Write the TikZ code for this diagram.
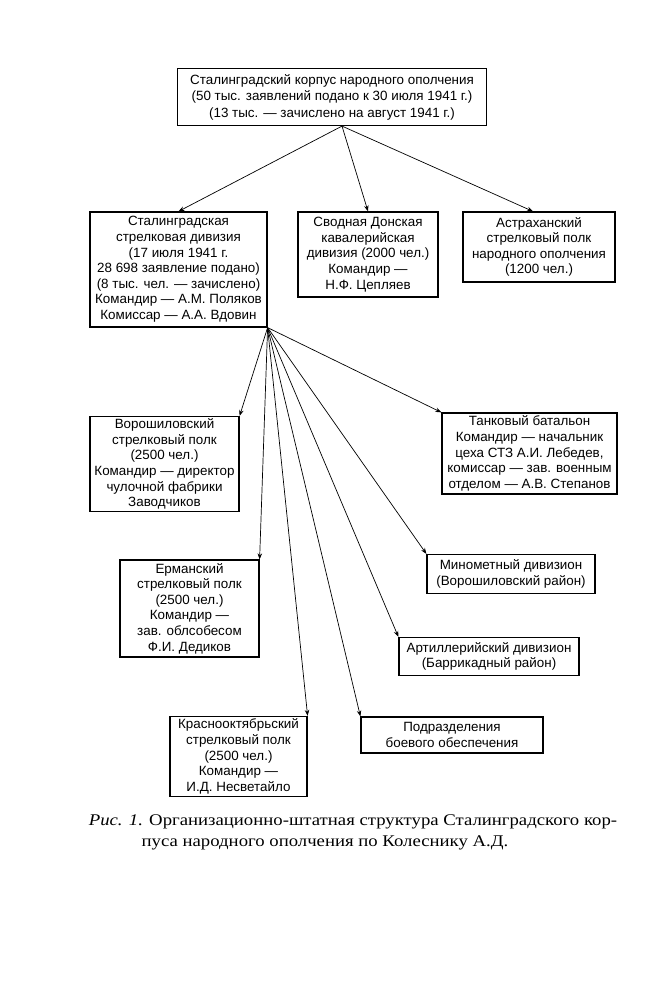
\documentclass[tikz,border=0pt]{standalone}
\usepackage{fontspec}
\setmainfont{Liberation Serif}
\newfontfamily\boxfont{Liberation Sans}
\newfontfamily\capfont[FakeStretch=1.15]{Liberation Serif}
\usetikzlibrary{arrows.meta}
\begin{document}
\begin{tikzpicture}[x=1pt,y=-1pt,
  unit/.style={draw=black,line width=1.2pt,align=center,inner sep=0pt,
    font=\boxfont\fontsize{13.4}{15.6}\selectfont},
  link/.style={line width=0.7pt,-{Stealth[length=6pt,width=4.5pt]}},
  captext/.style={font=\capfont\fontsize{16.3}{20}\selectfont}]
\fill[white] (0,0) rectangle (654,1000);
\useasboundingbox (0,0) rectangle (654,1000);
% boxes: center, width, height
\node[unit,minimum width=309pt,minimum height=57pt,font=\boxfont\fontsize{13.4}{16.5}\selectfont] (corp) at (332,97)
 {Сталинградский корпус народного ополчения\\(50 тыс. заявлений подано к 30 июля 1941 г.)\\(13 тыс. — зачислено на август 1941 г.)};
\node[unit,minimum width=177pt,minimum height=115pt] (stal) at (178.5,269.5)
 {Сталинградская\\стрелковая дивизия\\(17 июля 1941 г.\\28 698 заявление подано)\\(8 тыс. чел. — зачислено)\\Командир — А.М. Поляков\\Комиссар — А.А. Вдовин};
\node[unit,minimum width=140pt,minimum height=85pt] (don) at (368,254.5)
 {Сводная Донская\\кавалерийская\\дивизия (2000 чел.)\\Командир —\\Н.Ф. Цепляев};
\node[unit,minimum width=152pt,minimum height=70pt] (astr) at (539,247)
 {Астраханский\\стрелковый полк\\народного ополчения\\(1200 чел.)};
\node[unit,minimum width=149pt,minimum height=95pt] (voro) at (164.5,464)
 {Ворошиловский\\стрелковый полк\\(2500 чел.)\\Командир — директор\\чулочной фабрики\\Заводчиков};
\node[unit,minimum width=175pt,minimum height=81pt] (tank) at (529.5,453.5)
 {Танковый батальон\\Командир — начальник\\цеха СТЗ А.И. Лебедев,\\комиссар — зав. военным\\отделом — А.В. Степанов};
\node[unit,minimum width=139pt,minimum height=97pt] (erm) at (189.5,608.5)
 {Ерманский\\стрелковый полк\\(2500 чел.)\\Командир —\\зав. облсобесом\\Ф.И. Дедиков};
\node[unit,minimum width=168pt,minimum height=39pt] (mino) at (511,574)
 {Минометный дивизион\\(Ворошиловский район)};
\node[unit,minimum width=180pt,minimum height=38pt] (art) at (489,656.5)
 {Артиллерийский дивизион\\(Баррикадный район)};
\node[unit,minimum width=182pt,minimum height=36pt] (podr) at (452,735)
 {Подразделения\\боевого обеспечения};
\node[unit,minimum width=137pt,minimum height=80pt] (kras) at (238.5,756.5)
 {Краснооктябрьский\\стрелковый полк\\(2500 чел.)\\Командир —\\И.Д. Несветайло};
% connectors
\coordinate (c1) at ([xshift=10pt]corp.south);
\draw[link] (c1) -- (stal.north);
\draw[link] (c1) -- (don.north);
\draw[link] (c1) -- ([xshift=-6pt]astr.north);
\coordinate (c2) at (stal.south east);
\draw[link] (c2) -- (voro.north east);
\draw[link] (c2) -- (tank.north west);
\draw[link] (c2) -- (erm.north east);
\draw[link] (c2) -- (mino.north west);
\draw[link] (c2) -- (art.north west);
\draw[link] (c2) -- (podr.north west);
\draw[link] (c2) -- (kras.north east);
% caption
\node[captext] (cap1) at (353,822)
 {\textit{Рис. 1.} Организационно-штатная структура Сталинградского кор-};
\node[captext] (cap2) at (325,843)
 {пуса народного ополчения по Колеснику А.Д.};
\end{tikzpicture}
\end{document}
